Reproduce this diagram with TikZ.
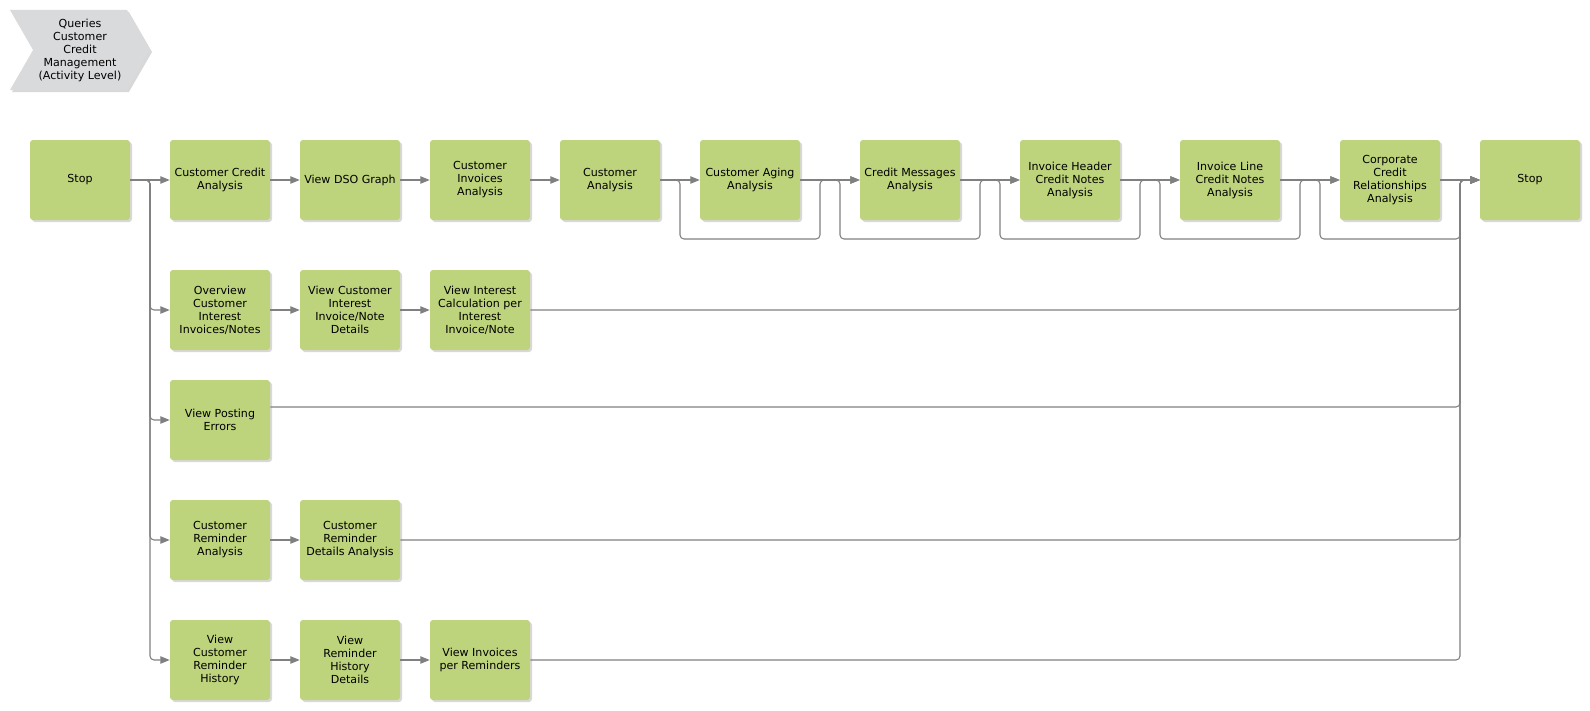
\documentclass[tikz,border=0pt]{standalone}
\usepackage{fontspec}
\setmainfont{DejaVu Sans}
\usepackage{xcolor}
\usepackage{tikz}
\usetikzlibrary{arrows.meta,shadows,shapes.symbols}
\definecolor{actgreen}{RGB}{189,211,124}
\definecolor{evgray}{RGB}{217,218,220}
\definecolor{flowgray}{RGB}{128,128,128}

\begin{document}
\begin{tikzpicture}[
  x=0.75pt, y=-0.75pt,
  font=\fontsize{8.3}{9.75}\selectfont,
  activity/.style={rectangle, rounded corners=2.25pt, fill=actgreen, minimum width=75pt, minimum height=60pt, inner sep=1pt, align=center, drop shadow={shadow xshift=1.5pt, shadow yshift=-1.5pt, fill=black!30}},
  event/.style={signal, signal to=east, signal from=west, signal pointer angle=120, fill=evgray, minimum width=105pt, minimum height=60pt, inner sep=1pt, align=center, drop shadow={shadow xshift=1.5pt, shadow yshift=-1.5pt, fill=black!30}},
  arrow/.style={draw=flowgray, line width=0.8pt, rounded corners=3pt, -{Triangle[length=7pt,width=5.5pt]}}
]
\useasboundingbox (0,0) rectangle (1590,710);

\node[event] (title) at (80,50) {Queries\\Customer\\Credit\\Management\\(Activity Level)};

\node[activity] (start) at (80,180) {Stop};
\node[activity] (ccred) at (220,180) {Customer Credit\\Analysis};
\node[activity] (dso) at (350,180) {View DSO Graph};
\node[activity] (cinv) at (480,180) {Customer\\Invoices\\Analysis};
\node[activity] (cana) at (610,180) {Customer\\Analysis};
\node[activity] (aging) at (750,180) {Customer Aging\\Analysis};
\node[activity] (cmsg) at (910,180) {Credit Messages\\Analysis};
\node[activity] (ihdr) at (1070,180) {Invoice Header\\Credit Notes\\Analysis};
\node[activity] (iline) at (1230,180) {Invoice Line\\Credit Notes\\Analysis};
\node[activity] (corp) at (1390,180) {Corporate\\Credit\\Relationships\\Analysis};
\node[activity] (stop) at (1530,180) {Stop};

\node[activity] (ovint) at (220,310) {Overview\\Customer\\Interest\\Invoices/Notes};
\node[activity] (vcint) at (350,310) {View Customer\\Interest\\Invoice/Note\\Details};
\node[activity] (vical) at (480,310) {View Interest\\Calculation per\\Interest\\Invoice/Note};

\node[activity] (vpost) at (220,420) {View Posting\\Errors};

\node[activity] (crem) at (220,540) {Customer\\Reminder\\Analysis};
\node[activity] (cremd) at (350,540) {Customer\\Reminder\\Details Analysis};

\node[activity] (vcrh) at (220,660) {View\\Customer\\Reminder\\History};
\node[activity] (vrhd) at (350,660) {View\\Reminder\\History\\Details};
\node[activity] (vinvr) at (480,660) {View Invoices\\per Reminders};

\draw[arrow] (start.east) -- (ccred.west);
\draw[arrow] (start.east) -- (150,180) |- (ovint.west);
\draw[arrow] (start.east) -- (150,180) |- (vpost.west);
\draw[arrow] (start.east) -- (150,180) |- (crem.west);
\draw[arrow] (start.east) -- (150,180) |- (vcrh.west);

\draw[arrow] (ccred.east) -- (dso.west);
\draw[arrow] (dso.east) -- (cinv.west);
\draw[arrow] (cinv.east) -- (cana.west);
\draw[arrow] (cana.east) -- (aging.west);
\draw[arrow] (aging.east) -- (cmsg.west);
\draw[arrow] (cmsg.east) -- (ihdr.west);
\draw[arrow] (ihdr.east) -- (iline.west);
\draw[arrow] (iline.east) -- (corp.west);
\draw[arrow] (corp.east) -- (stop.west);

\draw[arrow] (cana.east) -- (680,180) |- (820,239) |- (cmsg.west);
\draw[arrow] (aging.east) -- (840,180) |- (980,239) |- (ihdr.west);
\draw[arrow] (cmsg.east) -- (1000,180) |- (1140,239) |- (iline.west);
\draw[arrow] (ihdr.east) -- (1160,180) |- (1300,239) |- (corp.west);
\draw[arrow] (iline.east) -- (1320,180) |- (1460,239) |- (stop.west);

\draw[arrow] (ovint.east) -- (vcint.west);
\draw[arrow] (vcint.east) -- (vical.west);
\draw[arrow] (vical.east) -- (1460,310) |- (stop.west);

\draw[arrow] ([yshift=9.75pt]vpost.east) -- (1460,407) |- (stop.west);

\draw[arrow] (crem.east) -- (cremd.west);
\draw[arrow] (cremd.east) -- (1460,540) |- (stop.west);

\draw[arrow] (vcrh.east) -- (vrhd.west);
\draw[arrow] (vrhd.east) -- (vinvr.west);
\draw[arrow] (vinvr.east) -- (1460,660) |- (stop.west);
\end{tikzpicture}
\end{document}
